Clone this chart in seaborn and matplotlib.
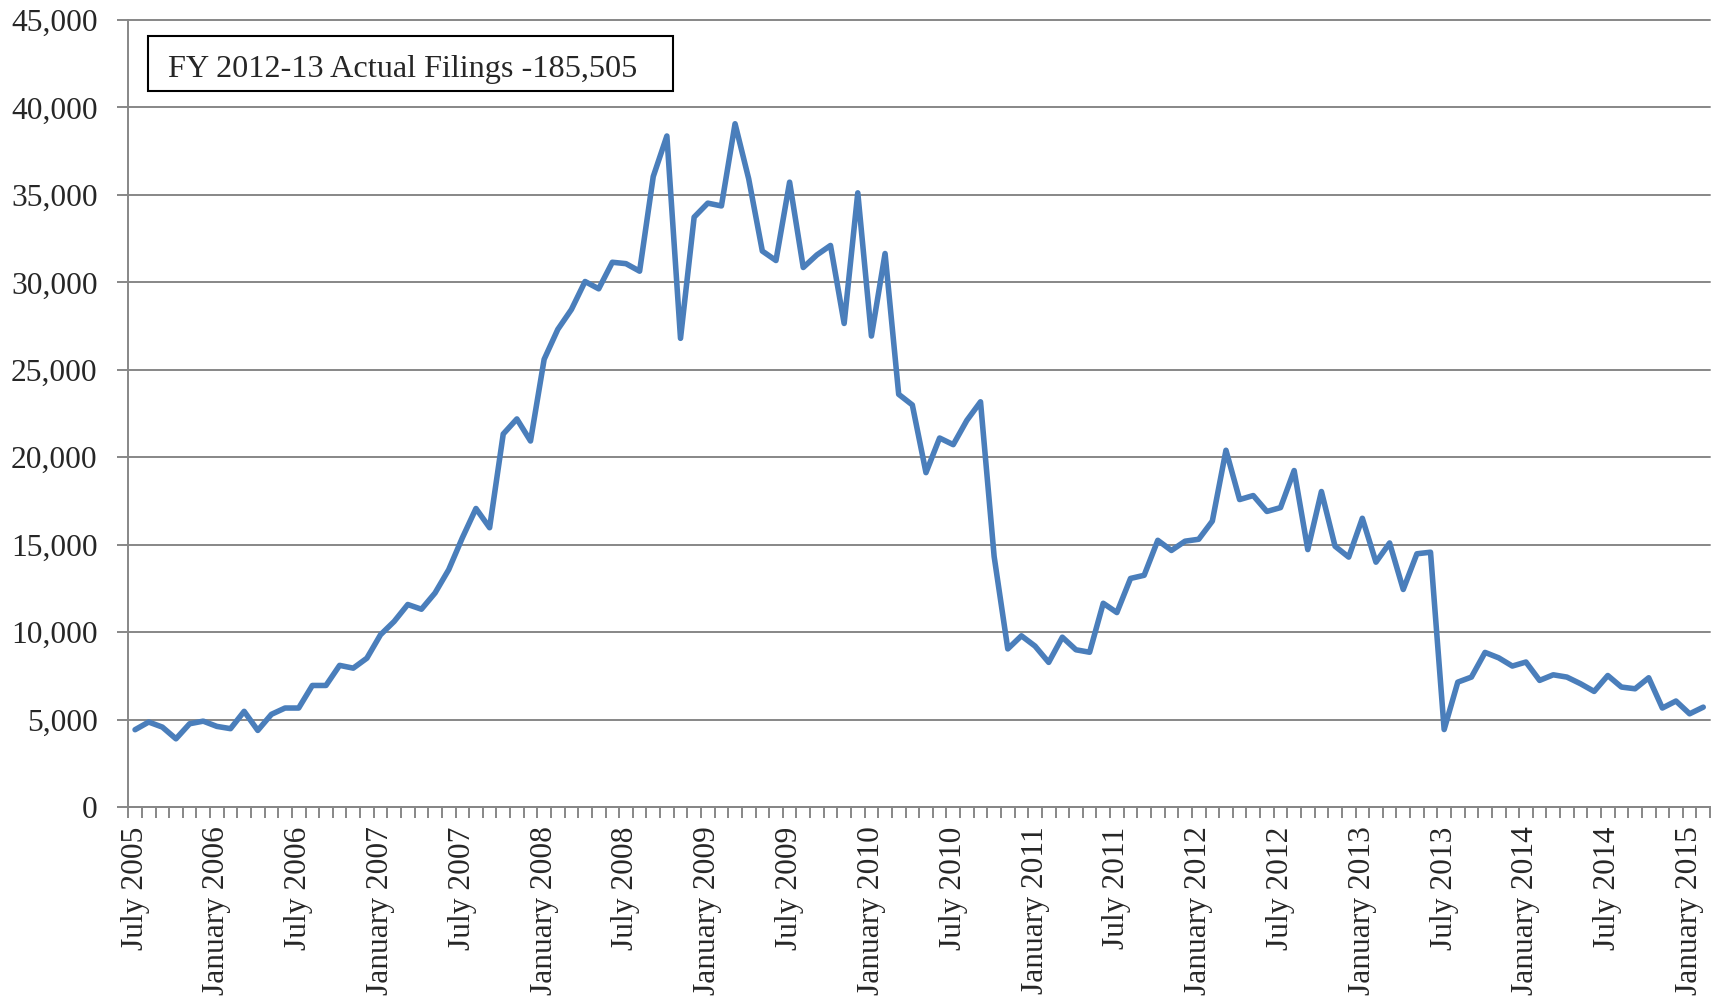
import matplotlib
matplotlib.use('Agg')
import matplotlib.pyplot as plt
import matplotlib.ticker as mticker
from matplotlib.patches import Rectangle
import numpy as np
import pandas as pd
import seaborn as sns

# Monthly filings, July 2005 - February 2015
months = pd.date_range('2005-07-01', periods=116, freq='MS').strftime('%B %Y').tolist()

filings = [
    4420, 4860, 4570, 3900, 4760, 4910, 4610, 4480, 5470, 4380,
    5300, 5660, 5660, 6950, 6950, 8100, 7940, 8510, 9850, 10610,
    11580, 11310, 12240, 13570, 15390, 17070, 15970, 21330, 22190, 20930,
    25600, 27310, 28450, 30050, 29630, 31150, 31070, 30640, 36050, 38370,
    26800, 33730, 34530, 34370, 39070, 35920, 31790, 31250, 35730, 30850,
    31570, 32110, 27650, 35120, 26930, 31650, 23600, 22990, 19120, 21100,
    20720, 22110, 23170, 14320, 9040, 9790, 9200, 8270, 9710, 8990,
    8850, 11650, 11120, 13070, 13250, 15250, 14670, 15200, 15310, 16350,
    20400, 17580, 17810, 16900, 17120, 19240, 14720, 18040, 14910, 14290,
    16510, 14000, 15100, 12440, 14480, 14570, 4430, 7140, 7430, 8840,
    8530, 8060, 8290, 7240, 7560, 7430, 7050, 6610, 7520, 6860,
    6760, 7390, 5660, 6060, 5330, 5710,
]

tick_labels = [
    'July 2005', 'January 2006', 'July 2006', 'January 2007', 'July 2007',
    'January 2008', 'July 2008', 'January 2009', 'July 2009', 'January 2010',
    'July 2010', 'January 2011', 'July 2011', 'January 2012', 'July 2012',
    'January 2013', 'July 2013', 'January 2014', 'July 2014', 'January 2015',
]

box_text = 'FY 2012-13 Actual Filings -185,505'

df = pd.DataFrame({'month': months, 'filings': filings})
df['pos'] = np.arange(len(df))

sns.set_style('white')
plt.rcParams['font.family'] = ['Liberation Serif', 'DejaVu Serif']

grey = '#878787'

fig = plt.figure(figsize=(17.19, 10.02), dpi=100)
ax = fig.add_axes([0.0746, 0.1946, 0.9202, 0.7854])

ax.grid(axis='y', color=grey, linewidth=1.4)
ax.set_axisbelow(True)

sns.lineplot(data=df, x='pos', y='filings', ax=ax, color='#4A7EBB',
             linewidth=4.0, solid_joinstyle='round', solid_capstyle='round')

ax.set_xlim(-0.5, len(df) - 0.5)
ax.set_ylim(0, 45000)
ax.set_yticks(range(0, 45001, 5000))
ax.yaxis.set_major_formatter(mticker.StrMethodFormatter('{x:,.0f}'))
for gl in ax.get_ygridlines():
    gl.set_clip_on(False)

label_pos = [months.index(lbl) for lbl in tick_labels]
ax.set_xticks(label_pos)
ax.set_xticklabels(tick_labels, rotation=90, va='top', ha='center')
ax.set_xticks(np.arange(-0.5, len(df)), minor=True)

ax.tick_params(axis='x', which='major', length=0, pad=14, labelsize=22.7)
ax.tick_params(axis='x', which='minor', length=8, width=1.4, color=grey,
               direction='out', bottom=True)
ax.tick_params(axis='y', which='major', length=8, width=1.4, color=grey,
               direction='out', left=True, labelsize=22.7, pad=14)

ax.set_xlabel('')
ax.set_ylabel('')

for side in ['top', 'right']:
    ax.spines[side].set_visible(False)
for side in ['left', 'bottom']:
    ax.spines[side].set_color(grey)
    ax.spines[side].set_linewidth(1.4)

# annotation box
ax.add_patch(Rectangle((0.01245, 0.9098), 0.332, 0.0699, transform=ax.transAxes,
                       fill=True, facecolor='white', edgecolor='black',
                       linewidth=1.5, zorder=5))
ax.text(0.0251, 0.928, box_text, transform=ax.transAxes, fontsize=23.2,
        va='baseline', ha='left', zorder=6)

fig.savefig('out.png', dpi=100)
